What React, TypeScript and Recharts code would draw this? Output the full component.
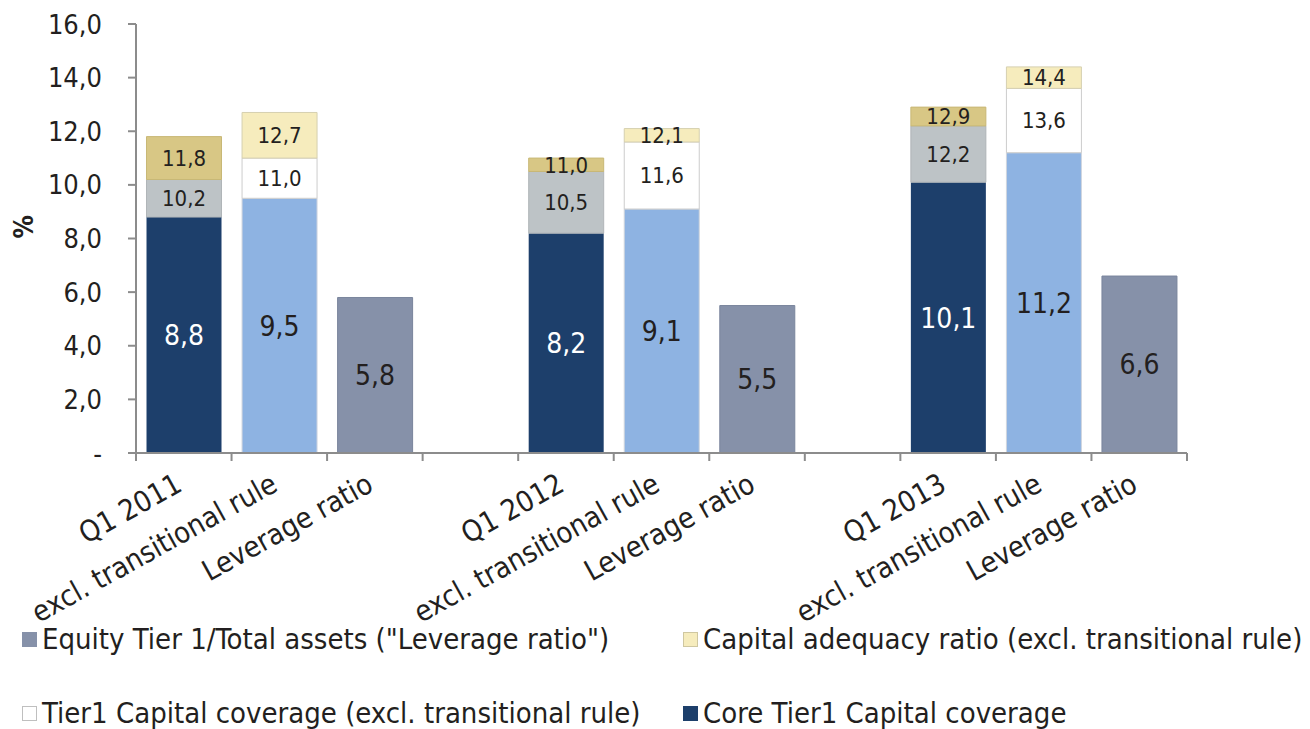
import React from "react";
import {
  BarChart,
  Bar,
  XAxis,
  YAxis,
  Legend,
  LabelList,
} from "recharts";

const FONT = "'DejaVu Sans Condensed', 'DejaVu Sans', sans-serif";
const TEXT = "#231F20";
const AXIS = "#8C8C8C";

// x slots: 3 bars per quarter, one empty slot between quarters
const categories = [
  "Q1 2011",
  "excl. transitional rule",
  "Leverage ratio",
  "",
  "Q1 2012",
  "excl. transitional rule",
  "Leverage ratio",
  "",
  "Q1 2013",
  "excl. transitional rule",
  "Leverage ratio",
];

// cumulative levels as printed on the bars, one value per quarter
const coreTier1 = [8.8, 8.2, 10.1];
const tier1 = [10.2, 10.5, 12.2];
const capitalAdequacy = [11.8, 11.0, 12.9];
const coreTier1Excl = [9.5, 9.1, 11.2];
const tier1Excl = [11.0, 11.6, 13.6];
const capitalAdequacyExcl = [12.7, 12.1, 14.4];
const leverage = [5.8, 5.5, 6.6];

const yTicks = [0, 2, 4, 6, 8, 10, 12, 14, 16];

const COLORS = {
  core: "#1D3F6B",
  tier1: "#BDC3C6",
  car: "#D8C785",
  coreExcl: "#8EB3E2",
  tier1Excl: "#FFFFFF",
  carExcl: "#F6ECBD",
  leverage: "#8691A9",
};

const legendItems = [
  { label: 'Equity Tier 1/Total assets ("Leverage ratio")', color: COLORS.leverage, border: "#8691A9" },
  { label: "Capital adequacy ratio (excl. transitional rule)", color: COLORS.carExcl, border: "#CFC7A0" },
  { label: "Tier1 Capital coverage (excl. transitional rule)", color: COLORS.tier1Excl, border: "#BFBFBF" },
  { label: "Core Tier1 Capital coverage", color: COLORS.core, border: "#1D3F6B" },
];

const W = 1310;
const H = 729;
const MARGIN = { top: 24, right: 123, bottom: 0, left: 0 };
const Y_WIDTH = 136;
const SLOT = (W - MARGIN.right - MARGIN.left - Y_WIDTH) / categories.length;

type Row = Record<string, string | number | undefined>;

const data: Row[] = categories.map((label) => ({ label }));
coreTier1.forEach((_, p) => {
  const base = p * 4;
  Object.assign(data[base], {
    core: coreTier1[p],
    tier1Inc: tier1[p] - coreTier1[p],
    tier1Lbl: tier1[p],
    carInc: capitalAdequacy[p] - tier1[p],
    carLbl: capitalAdequacy[p],
  });
  Object.assign(data[base + 1], {
    coreExcl: coreTier1Excl[p],
    tier1ExclInc: tier1Excl[p] - coreTier1Excl[p],
    tier1ExclLbl: tier1Excl[p],
    carExclInc: capitalAdequacyExcl[p] - tier1Excl[p],
    carExclLbl: capitalAdequacyExcl[p],
  });
  Object.assign(data[base + 2], { leverage: leverage[p] });
});

const fmt = (v: unknown) =>
  v == null || v === "" ? "" : Number(v).toFixed(1).replace(".", ",");

const yFmt = (v: number) => (v === 0 ? "-" : fmt(v));

// tick marks sit on slot boundaries, labels hang rotated from the slot centre
function CategoryTick(props: any) {
  const { x, y, payload, index } = props;
  const half = payload?.offset || SLOT / 2;
  const last = index === categories.length - 1;
  return (
    <g>
      <line x1={x - half} x2={x - half} y1={y} y2={y + 8} stroke={AXIS} strokeWidth={2} />
      {last && <line x1={x + half} x2={x + half} y1={y} y2={y + 8} stroke={AXIS} strokeWidth={2} />}
      {payload?.value ? (
        <g transform={`translate(${x},${y + 37})`}>
          <text transform="rotate(-29)" textAnchor="end" fontFamily={FONT} fontSize={29} fill={TEXT}>
            {payload.value}
          </text>
        </g>
      ) : null}
    </g>
  );
}

function LegendContent() {
  return (
    <div style={{ position: "relative", width: W, height: 110, fontFamily: FONT }}>
      {legendItems.map((it, i) => {
        const col = i % 2;
        const row = Math.floor(i / 2);
        return (
          <div
            key={it.label}
            style={{
              position: "absolute",
              left: col === 0 ? 22 : 683,
              top: row * 74,
              display: "flex",
              alignItems: "center",
              height: 34,
              lineHeight: "34px",
              whiteSpace: "nowrap",
            }}
          >
            <span
              style={{
                display: "inline-block",
                width: 13,
                height: 13,
                background: it.color,
                border: `1px solid ${it.border}`,
                marginRight: 5,
              }}
            />
            <span style={{ fontSize: 29, color: TEXT }}>{it.label}</span>
          </div>
        );
      })}
    </div>
  );
}

const labelSmall = { fontSize: 22, fill: TEXT, fontFamily: FONT };
const labelBig = { fontSize: 28, fill: TEXT, fontFamily: FONT };

export default function App() {
  return (
    <div style={{ position: "absolute", left: 0, top: 0, background: "#fff" }}>
      <BarChart
        width={W}
        height={H}
        data={data}
        margin={MARGIN}
        barCategoryGap="11%"
      >
        <XAxis
          dataKey="label"
          height={276}
          tickSize={0}
          tickMargin={0}
          axisLine={{ stroke: AXIS, strokeWidth: 2 }}
          tickLine={false}
          interval={0}
          tick={<CategoryTick />}
        />
        <YAxis
          width={Y_WIDTH}
          domain={[0, 16]}
          ticks={yTicks}
          tickFormatter={yFmt}
          tickSize={8}
          tickMargin={26}
          axisLine={{ stroke: AXIS, strokeWidth: 2 }}
          tickLine={{ stroke: AXIS, strokeWidth: 2 }}
          tick={{ fontSize: 27, fill: TEXT, fontFamily: FONT }}
          label={{
            value: "%",
            angle: -90,
            position: "insideLeft",
            offset: 24,
            style: { fontSize: 26, fontWeight: "bold", fill: TEXT, fontFamily: FONT },
          }}
        />
        <Legend
          layout="vertical"
          align="center"
          verticalAlign="middle"
          wrapperStyle={{ position: "absolute", left: 0, top: 622, width: W, height: 110 }}
          content={<LegendContent />}
        />
        <Bar dataKey="core" stackId="s" fill={COLORS.core} isAnimationActive={false}>
          <LabelList dataKey="core" position="center" formatter={fmt} style={{ ...labelBig, fill: "#FFFFFF" }} />
        </Bar>
        <Bar dataKey="tier1Inc" stackId="s" fill={COLORS.tier1} stroke="#B0B5B8" isAnimationActive={false}>
          <LabelList dataKey="tier1Lbl" position="center" formatter={fmt} style={labelSmall} />
        </Bar>
        <Bar dataKey="carInc" stackId="s" fill={COLORS.car} stroke="#C8B876" isAnimationActive={false}>
          <LabelList dataKey="carLbl" position="center" formatter={fmt} style={labelSmall} />
        </Bar>
        <Bar dataKey="coreExcl" stackId="s" fill={COLORS.coreExcl} stroke="#D0D6DE" isAnimationActive={false}>
          <LabelList dataKey="coreExcl" position="center" formatter={fmt} style={labelBig} />
        </Bar>
        <Bar dataKey="tier1ExclInc" stackId="s" fill={COLORS.tier1Excl} stroke="#CCCCCC" isAnimationActive={false}>
          <LabelList dataKey="tier1ExclLbl" position="center" formatter={fmt} style={labelSmall} />
        </Bar>
        <Bar dataKey="carExclInc" stackId="s" fill={COLORS.carExcl} stroke="#D6D0B0" isAnimationActive={false}>
          <LabelList dataKey="carExclLbl" position="center" formatter={fmt} style={labelSmall} />
        </Bar>
        <Bar dataKey="leverage" stackId="s" fill={COLORS.leverage} stroke="#7A859C" isAnimationActive={false}>
          <LabelList dataKey="leverage" position="center" formatter={fmt} style={labelBig} />
        </Bar>
      </BarChart>
    </div>
  );
}
